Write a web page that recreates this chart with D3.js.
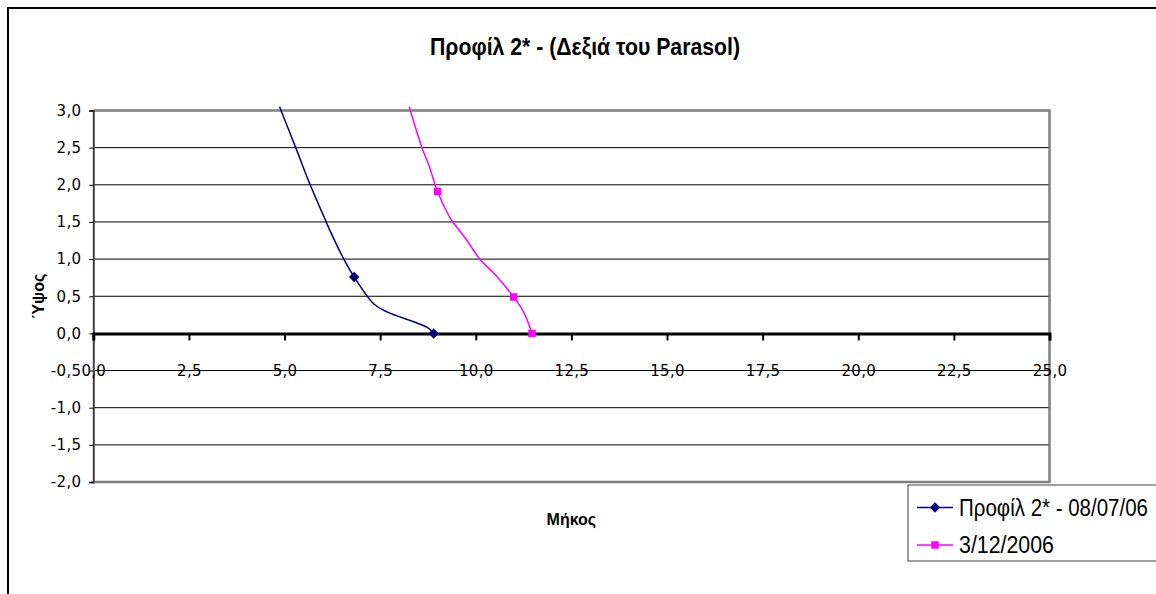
<!DOCTYPE html>
<html lang="el">
<head>
<meta charset="UTF-8">
<style>
body { margin: 0; background: #fff; }
svg text { fill: #000; }
.tick-label { font-family: "DejaVu Sans", Verdana, sans-serif; font-size: 15px; letter-spacing: 0.3px; }
.axis-title { font-family: "Liberation Sans", Arial, sans-serif; font-size: 16px; font-weight: bold; }
.title { font-family: "Liberation Sans", Arial, sans-serif; font-size: 23px; font-weight: bold; }
.legend-text { font-family: "Liberation Sans", Arial, sans-serif; font-size: 23px; }
.grid { stroke: #000; stroke-width: 1; }
</style>
</head>
<body>
<div id="chart"></div>
<script src="https://cdn.jsdelivr.net/npm/d3@7"></script>
<script>
// chart texts
const chartTitle = "Προφίλ 2* - (Δεξιά του Parasol)";
const xTitle = "Μήκος";
const yTitle = "Ύψος";
const seriesNames = ["Προφίλ 2* - 08/07/06", "3/12/2006"];

// tick values
const xTickValues = [0, 2.5, 5, 7.5, 10, 12.5, 15, 17.5, 20, 22.5, 25];
const yTickValues = [-2, -1.5, -1, -0.5, 0, 0.5, 1, 1.5, 2, 2.5, 3];

// series 1 (08/07/06), markers only where flag is 1
const s1X = [4.87, 5.30, 5.67, 6.09, 6.20, 6.56, 6.82, 7.33, 7.68, 8.73, 8.90];
const s1Y = [3.05, 2.49, 2.00, 1.50, 1.37, 0.99, 0.76, 0.40, 0.29, 0.08, 0.00];
const s1Mark = [0, 0, 0, 0, 0, 0, 1, 0, 0, 0, 1];

// series 2 (3/12/2006)
const s2X = [8.26, 8.60, 8.77, 9.00, 9.29, 9.40, 9.73, 10.12, 10.51, 10.99, 11.25, 11.47];
const s2Y = [3.05, 2.49, 2.27, 1.91, 1.59, 1.50, 1.28, 0.99, 0.79, 0.49, 0.29, 0.00];
const s2Mark = [0, 0, 0, 1, 0, 0, 0, 0, 0, 1, 0, 1];

const W = 1156, H = 594;
const plot = {left: 93.3, right: 1049.5, top: 110.5, bottom: 482};

const svg = d3.select("#chart").append("svg")
    .attr("width", W)
    .attr("height", H);

const locale = d3.formatLocale({decimal: ",", thousands: ".", grouping: [3], currency: ["", "€"], minus: "-"});
const fmt = locale.format(".1f");

const x = d3.scaleLinear().domain([0, 25]).range([plot.left, plot.right]);
const y = d3.scaleLinear().domain([-2, 3]).range([plot.bottom, plot.top]);

// outer chart border
svg.append("rect")
    .attr("x", 8).attr("y", 8)
    .attr("width", 1300).attr("height", 800)
    .attr("fill", "none")
    .attr("stroke", "#000")
    .attr("stroke-width", 2);

// horizontal gridlines
svg.selectAll(".grid")
    .data(yTickValues.filter(d => d !== 3 && d !== -2 && d !== 0))
    .enter().append("line")
    .attr("class", "grid")
    .attr("x1", plot.left).attr("x2", plot.right)
    .attr("y1", d => y(d)).attr("y2", d => y(d));

// plot area border (top, right, bottom)
svg.append("path")
    .attr("d", `M${plot.left},${plot.top}H${plot.right}V${plot.bottom}H${plot.left}`)
    .attr("fill", "none")
    .attr("stroke", "#808080")
    .attr("stroke-width", 2.5);

// y axis
const yAxis = d3.axisLeft(y).tickValues(yTickValues).tickSize(4).tickFormat(fmt).tickPadding(8);
const gy = svg.append("g")
    .attr("transform", `translate(${plot.left},0)`)
    .call(yAxis);
gy.select(".domain").attr("stroke", "#404040").attr("stroke-width", 2);
gy.selectAll(".tick line").attr("stroke", "#000");
gy.selectAll(".tick text").attr("class", "tick-label");

// x axis drawn on y = 0
const xAxis = d3.axisBottom(x).tickValues(xTickValues).tickSize(7).tickFormat(fmt).tickPadding(25);
const gx = svg.append("g")
    .attr("transform", `translate(0,${y(0)})`)
    .call(xAxis);
gx.select(".domain").attr("stroke", "#000").attr("stroke-width", 3);
gx.selectAll(".tick line").attr("stroke", "#000").attr("stroke-width", 2);
gx.selectAll(".tick text").attr("class", "tick-label");

// axis titles
svg.append("text")
    .attr("class", "axis-title")
    .attr("x", (plot.left + plot.right) / 2)
    .attr("y", 525)
    .attr("text-anchor", "middle")
    .text(xTitle);

svg.append("text")
    .attr("class", "axis-title")
    .attr("transform", `translate(44,${(plot.top + plot.bottom) / 2}) rotate(-90)`)
    .attr("text-anchor", "middle")
    .text(yTitle);

// title
svg.append("text")
    .attr("class", "title")
    .attr("x", 585)
    .attr("y", 55)
    .attr("text-anchor", "middle")
    .attr("textLength", 310)
    .attr("lengthAdjust", "spacingAndGlyphs")
    .text(chartTitle);

const line = d3.line()
    .x(d => x(d[0]))
    .y(d => y(d[1]))
    .curve(d3.curveCatmullRom.alpha(0.5));

const series = [
    {xs: s1X, ys: s1Y, marks: s1Mark, color: "#000080", shape: d3.symbolDiamond2, size: 70},
    {xs: s2X, ys: s2Y, marks: s2Mark, color: "#FF00FF", shape: d3.symbolSquare, size: 56}
];

series.forEach(s => {
    const pts = s.xs.map((v, i) => [v, s.ys[i], s.marks[i]]);
    svg.append("path")
        .datum(pts)
        .attr("fill", "none")
        .attr("stroke", s.color)
        .attr("stroke-width", 1.5)
        .attr("d", line);
    svg.selectAll(null)
        .data(pts.filter(p => p[2] === 1))
        .enter().append("path")
        .attr("d", d3.symbol().type(s.shape).size(s.size))
        .attr("transform", d => `translate(${x(d[0])},${y(d[1])})`)
        .attr("fill", s.color);
});

// legend
const legend = svg.append("g");
legend.append("rect")
    .attr("x", 908).attr("y", 485)
    .attr("width", 400).attr("height", 76)
    .attr("fill", "#fff")
    .attr("stroke", "#404040")
    .attr("stroke-width", 1);

series.forEach((s, i) => {
    const ly = 507.5 + i * 37.5;
    legend.append("line")
        .attr("x1", 917).attr("x2", 953)
        .attr("y1", ly).attr("y2", ly)
        .attr("stroke", s.color)
        .attr("stroke-width", 1.5);
    legend.append("path")
        .attr("d", d3.symbol().type(s.shape).size(s.size)())
        .attr("transform", `translate(935,${ly})`)
        .attr("fill", s.color);
    legend.append("text")
        .attr("class", "legend-text")
        .attr("x", 959)
        .attr("y", ly + 8)
        .attr("textLength", i === 0 ? 189 : 95)
        .attr("lengthAdjust", "spacingAndGlyphs")
        .text(seriesNames[i]);
});
</script>
</body>
</html>
